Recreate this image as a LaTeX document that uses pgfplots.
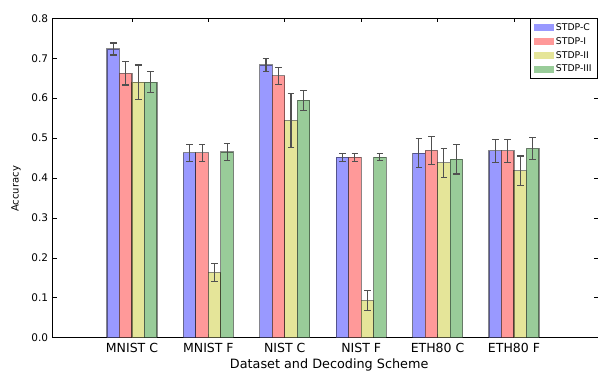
\documentclass[border=0pt]{standalone}
\usepackage{pgfplots}
\pgfplotsset{compat=1.18}
\usepackage{pgfplotstable}
\usepackage{fontspec}
\setmainfont{DejaVu Sans}
\definecolor{cB}{HTML}{9999FF}
\definecolor{cR}{HTML}{FF9999}
\definecolor{cY}{HTML}{E5E599}
\definecolor{cG}{HTML}{99CC99}
\definecolor{errc}{HTML}{505050}

\pgfplotstableread{
x y e
0 0.723 0.015
1 0.463 0.022
2 0.683 0.017
3 0.452 0.010
4 0.462 0.036
5 0.468 0.029
}\stdpc
\pgfplotstableread{
x y e
0 0.662 0.029
1 0.463 0.022
2 0.656 0.021
3 0.452 0.010
4 0.469 0.036
5 0.468 0.029
}\stdpi
\pgfplotstableread{
x y e
0 0.640 0.043
1 0.163 0.023
2 0.544 0.068
3 0.093 0.025
4 0.438 0.036
5 0.418 0.037
}\stdpii
\pgfplotstableread{
x y e
0 0.640 0.026
1 0.465 0.021
2 0.595 0.025
3 0.452 0.009
4 0.447 0.037
5 0.474 0.028
}\stdpiii

\begin{document}
\begin{tikzpicture}
\begin{axis}[
  name=ax,
  at={(0,0)}, anchor=south west,
  scale only axis,
  width=545.3pt, height=319.4pt,
  xmin=-1.038, xmax=6.10,
  ymin=0, ymax=0.8,
  ybar=0pt, bar width=12.5pt,
  xtick={0,1,2,3,4,5},
  xticklabels={MNIST C, MNIST F, NIST C, NIST F, ETH80 C, ETH80 F},
  ytick={0,0.1,0.2,0.3,0.4,0.5,0.6,0.7,0.8},
  yticklabel style={/pgf/number format/fixed, /pgf/number format/fixed zerofill, /pgf/number format/precision=1},
  /pgf/number format/assume math mode=true,
  tick align=inside,
  major tick length=4pt,
  tick style={black, line width=0.6pt},
  axis line style={black, line width=0.8pt},
  xticklabel style={font=\fontsize{12.5}{14}\selectfont, inner sep=0pt, anchor=north, yshift=-5.7pt},
  yticklabel style={font=\fontsize{10.5}{12}\selectfont, inner sep=0pt, anchor=east, xshift=-4.4pt},
  xlabel={Dataset and Decoding Scheme},
  ylabel={Accuracy},
  xlabel style={font=\fontsize{12.8}{14}\selectfont, at={(axis description cs:0.507,-0.066)}, anchor=north, inner sep=0pt},
  ylabel style={font=\fontsize{10}{12}\selectfont, at={(axis description cs:-0.0673,0.466)}, anchor=center, inner sep=0pt},
  legend style={at={(1,1)}, anchor=north east, draw=black, line width=0.6pt,
    font=\fontsize{9.3}{11}\selectfont, inner xsep=4pt, inner ysep=3pt,
    row sep=1.4pt, cells={anchor=west}},
  legend image code/.code={\fill[#1, draw=none] (0pt,-3.3pt) rectangle (20pt,3.3pt);},
  barsty/.style={draw=black, draw opacity=0.45, line width=1.1pt,
    error bars/.cd, y dir=both, y explicit,
    error bar style={errc, line width=1.1pt, draw opacity=1},
    error mark options={errc, rotate=90, mark size=3.3pt, line width=1.1pt}},
]
\addplot[fill=cB, barsty] table[x=x, y=y, y error=e] {\stdpc};
\addplot[fill=cR, barsty] table[x=x, y=y, y error=e] {\stdpi};
\addplot[fill=cY, barsty] table[x=x, y=y, y error=e] {\stdpii};
\addplot[fill=cG, barsty] table[x=x, y=y, y error=e] {\stdpiii};
\legend{STDP-C, STDP-I, STDP-II, STDP-III}
\end{axis}
\pgfresetboundingbox
\path ([shift={(-52.7pt,-33.3pt)}]ax.south west) rectangle ([shift={(0pt,18.3pt)}]ax.north east);
\end{tikzpicture}
\end{document}
